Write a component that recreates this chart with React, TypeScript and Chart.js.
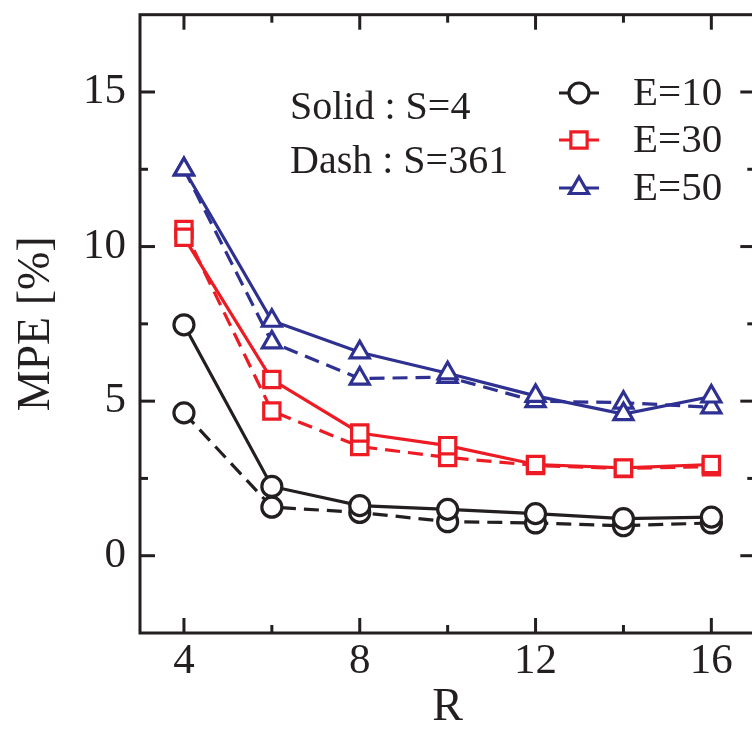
import React, { useEffect, useRef } from "react";
import { Chart, registerables } from "chart.js";

Chart.register(...registerables);

const R_VALUES = [4, 6, 8, 10, 12, 14, 16];
const E10_SOLID = [7.47, 2.24, 1.62, 1.5, 1.36, 1.2, 1.25];
const E10_DASH = [4.62, 1.57, 1.4, 1.1, 1.06, 0.97, 1.06];
const E30_SOLID = [10.3, 5.7, 3.97, 3.56, 2.95, 2.84, 2.95];
const E30_DASH = [10.55, 4.68, 3.53, 3.18, 2.92, 2.82, 2.88];
const E50_SOLID = [12.5, 7.6, 6.58, 5.9, 5.17, 4.58, 5.15];
const E50_DASH = [12.5, 6.9, 5.73, 5.78, 5.0, 4.95, 4.8];

const X_MAJOR = [4, 8, 12, 16];
const X_MINOR = [6, 10, 14];
const Y_MAJOR = [0, 5, 10, 15];
const Y_MINOR = [2.5, 7.5, 12.5];

const LEGEND_LABELS = ["E=10", "E=30", "E=50"];
const NOTE_LINES = ["Solid : S=4", "Dash : S=361"];

const FONT = "'Liberation Serif', 'Times New Roman', serif";
const BLACK = "#231f20";
const RED = "#ed1c24";
const BLUE = "#2e3192";
const LW = 3.2;

const SERIES = [
  { label: "E=10", data: E10_SOLID, color: BLACK, style: "circle", r: 10, dash: [] as number[] },
  { label: "E=30", data: E30_SOLID, color: RED, style: "rect", r: 11.5, dash: [] as number[] },
  { label: "E=50", data: E50_SOLID, color: BLUE, style: "triangle", r: 11, dash: [] as number[] },
  { label: "E=10 dash", data: E10_DASH, color: BLACK, style: "circle", r: 10, dash: [15, 8] },
  { label: "E=30 dash", data: E30_DASH, color: RED, style: "rect", r: 11.5, dash: [15, 8] },
  { label: "E=50 dash", data: E50_DASH, color: BLUE, style: "triangle", r: 11, dash: [15, 8] },
];

function drawMarker(ctx: any, style: string, r: number, x: number, y: number) {
  ctx.beginPath();
  if (style === "circle") {
    ctx.arc(x, y, r, 0, Math.PI * 2);
  } else if (style === "rect") {
    const s = Math.SQRT1_2 * r;
    ctx.rect(x - s, y - s, 2 * s, 2 * s);
  } else {
    const w = r * Math.sin((Math.PI * 2) / 3);
    ctx.moveTo(x, y - r);
    ctx.lineTo(x + w, y + r / 2);
    ctx.lineTo(x - w, y + r / 2);
    ctx.closePath();
  }
  ctx.fill();
  ctx.stroke();
}

const framePlugin = {
  id: "frameTicks",
  afterDraw(chart: any) {
    const { ctx, chartArea } = chart;
    const { left, right, top, bottom } = chartArea;
    const xs = chart.scales.x;
    const ys = chart.scales.y;
    ctx.save();
    ctx.strokeStyle = BLACK;
    ctx.lineWidth = 3;
    ctx.setLineDash([]);
    ctx.lineCap = "butt";
    ctx.strokeRect(left, top, right - left, bottom - top);
    const seg = (x1: number, y1: number, x2: number, y2: number) => {
      ctx.beginPath();
      ctx.moveTo(x1, y1);
      ctx.lineTo(x2, y2);
      ctx.stroke();
    };
    X_MAJOR.forEach((v) => {
      const p = xs.getPixelForValue(v);
      seg(p, bottom, p, bottom - 15);
      seg(p, top, p, top + 15);
    });
    X_MINOR.forEach((v) => {
      const p = xs.getPixelForValue(v);
      seg(p, bottom, p, bottom - 8);
      seg(p, top, p, top + 8);
    });
    Y_MAJOR.forEach((v) => {
      const p = ys.getPixelForValue(v);
      seg(left, p, left + 15, p);
      seg(right, p, right - 15, p);
    });
    Y_MINOR.forEach((v) => {
      const p = ys.getPixelForValue(v);
      seg(left, p, left + 8, p);
      seg(right, p, right - 8, p);
    });

    // annotation text
    ctx.fillStyle = BLACK;
    ctx.font = `40px ${FONT}`;
    ctx.textAlign = "left";
    ctx.textBaseline = "middle";
    ctx.fillText(NOTE_LINES[0], 290, 108);
    ctx.fillText(NOTE_LINES[1], 290, 162);

    // legend
    const rows = [93, 140, 188];
    LEGEND_LABELS.forEach((lab, i) => {
      const s = SERIES[i];
      const y = rows[i];
      ctx.strokeStyle = s.color;
      ctx.lineWidth = LW;
      seg(559, y, 599, y);
      ctx.fillStyle = "#ffffff";
      drawMarker(ctx, s.style, s.r, 579, y);
      ctx.fillStyle = BLACK;
      ctx.font = `41px ${FONT}`;
      ctx.textAlign = "left";
      ctx.textBaseline = "middle";
      ctx.fillText(lab, 633, y + 1);
    });
    ctx.restore();
  },
};

export default function App() {
  const ref = useRef<HTMLCanvasElement | null>(null);
  useEffect(() => {
    if (!ref.current) return;
    const chart = new Chart(ref.current, {
      type: "line",
      data: {
        datasets: SERIES.map((s) => ({
          label: s.label,
          data: R_VALUES.map((x, i) => ({ x, y: s.data[i] })),
          borderColor: s.color,
          borderWidth: LW,
          borderDash: s.dash,
          pointStyle: s.style as any,
          pointRadius: s.r,
          pointBorderWidth: LW,
          pointBorderColor: s.color,
          pointBackgroundColor: "#ffffff",
          tension: 0,
          fill: false,
        })),
      },
      options: {
        responsive: false,
        animation: false,
        devicePixelRatio: 1,
        layout: { padding: { top: 12, right: 10, left: 0, bottom: 0 } },
        plugins: { legend: { display: false }, tooltip: { enabled: false } },
        scales: {
          x: {
            type: "linear",
            min: 3,
            max: 17,
            grid: { display: false, drawTicks: false },
            border: { display: false },
            ticks: { font: { family: FONT, size: 43 }, color: BLACK, padding: 3, maxRotation: 0 },
            afterBuildTicks: (s: any) => {
              s.ticks = X_MAJOR.map((v) => ({ value: v }));
            },
            afterFit: (s: any) => {
              s.height = 97;
              s.paddingLeft = 0;
              s.paddingRight = 0;
            },
            title: {
              display: true,
              text: "R",
              font: { family: FONT, size: 46 },
              color: BLACK,
              padding: { top: 0, bottom: -6 },
            },
          },
          y: {
            type: "linear",
            min: -2.5,
            max: 17.5,
            grid: { display: false, drawTicks: false },
            border: { display: false },
            ticks: { font: { family: FONT, size: 43 }, color: BLACK, padding: 14 },
            afterBuildTicks: (s: any) => {
              s.ticks = Y_MAJOR.map((v) => ({ value: v }));
            },
            afterFit: (s: any) => {
              s.width = 140;
              s.paddingTop = 0;
              s.paddingBottom = 0;
            },
            title: {
              display: true,
              text: "MPE [%]",
              font: { family: FONT, size: 46 },
              color: BLACK,
              padding: { top: 9, bottom: 0 },
            },
          },
        },
      },
      plugins: [framePlugin],
    } as any);
    return () => chart.destroy();
  }, []);
  return (
    <div
      style={{
        position: "fixed",
        left: 0,
        top: 0,
        width: 752,
        height: 730,
        overflow: "hidden",
        background: "#ffffff",
      }}
    >
      <canvas ref={ref} width={770} height={730} style={{ width: 770, height: 730, display: "block" }} />
    </div>
  );
}
